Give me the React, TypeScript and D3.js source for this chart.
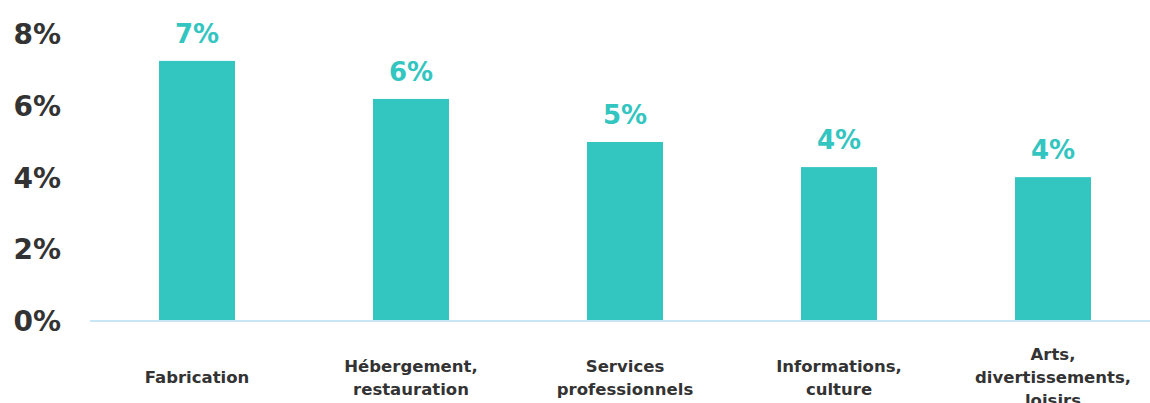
import React from "react";
import * as d3 from "d3";

const categories: string[][] = [
  ["Fabrication"],
  ["Hébergement,", "restauration"],
  ["Services", "professionnels"],
  ["Informations,", "culture"],
  ["Arts,", "divertissements,", "loisirs"],
];
const values: number[] = [7.25, 6.19, 4.99, 4.29, 4.01];
const valueLabels: string[] = ["7%", "6%", "5%", "4%", "4%"];
const yTicks: number[] = [0, 2, 4, 6, 8];

const W = 1150;
const H = 403;
const FONT = "'DejaVu Sans', 'Liberation Sans', Arial, sans-serif";
const TEAL = "#33c5c0";
const DARK = "#333333";

export default function App() {
  const x = d3
    .scaleBand<number>()
    .domain(d3.range(categories.length))
    .range([90, 1160])
    .paddingInner(0.645)
    .paddingOuter(0.3225);
  const y = d3.scaleLinear().domain([0, 8]).range([321, 34]);
  const lh = 23;
  const labelCenter = 377;

  return (
    <svg
      width={W}
      height={H}
      style={{ position: "absolute", left: 0, top: 0, background: "#fff" }}
    >
      {yTicks.map((t) => (
        <text
          key={t}
          x={61}
          y={y(t) + 10}
          textAnchor="end"
          fontFamily={FONT}
          fontWeight="bold"
          fontSize={28}
          fill={DARK}
        >
          {t}%
        </text>
      ))}
      {values.map((v, i) => (
        <g key={i}>
          <rect
            x={x(i)!}
            y={y(v)}
            width={x.bandwidth()}
            height={y(0) - y(v)}
            fill={TEAL}
          />
          <text
            x={x(i)! + x.bandwidth() / 2}
            y={y(v) - 18}
            textAnchor="middle"
            fontFamily={FONT}
            fontWeight="bold"
            fontSize={26}
            fill={TEAL}
          >
            {valueLabels[i]}
          </text>
          {categories[i].map((line, j) => (
            <text
              key={j}
              x={x(i)! + x.bandwidth() / 2}
              y={labelCenter - ((categories[i].length - 1) * lh) / 2 + j * lh + 6}
              textAnchor="middle"
              fontFamily={FONT}
              fontWeight="bold"
              fontSize={16.5}
              fill={DARK}
            >
              {line}
            </text>
          ))}
        </g>
      ))}
      <line x1={90} x2={1150} y1={y(0)} y2={y(0)} stroke="#c9e6f5" strokeWidth={2} />
    </svg>
  );
}
